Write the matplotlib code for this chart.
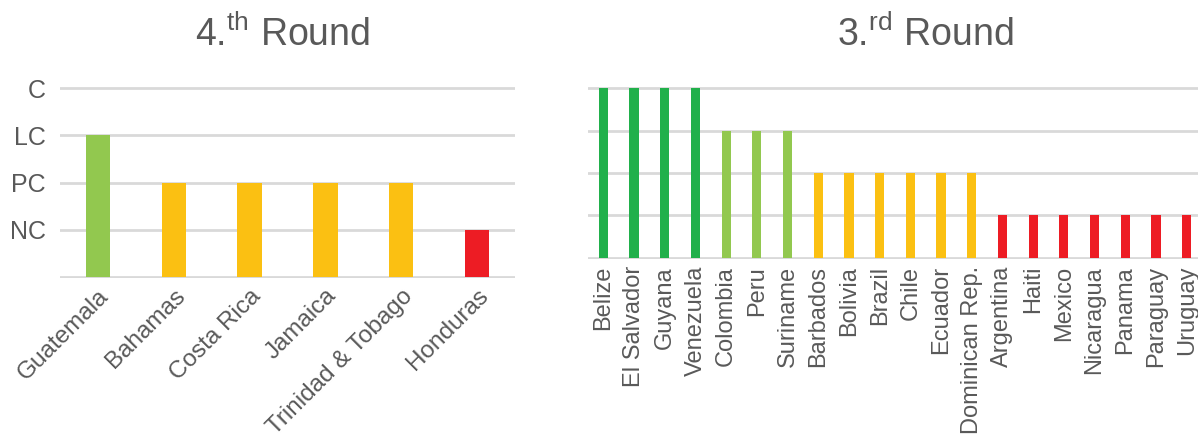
import matplotlib
matplotlib.use("Agg")
import matplotlib.pyplot as plt

plt.rcParams['font.family'] = ['Liberation Sans', 'DejaVu Sans']
plt.rcParams['mathtext.fontset'] = 'custom'
plt.rcParams['mathtext.rm'] = 'Liberation Sans'

levels = ["", "NC", "PC", "LC", "C"]

round4_countries = ["Guatemala", "Bahamas", "Costa Rica", "Jamaica",
                    "Trinidad & Tobago", "Honduras"]
round4_scores = [3, 2, 2, 2, 2, 1]

round3_countries = ["Belize", "El Salvador", "Guyana", "Venezuela", "Colombia",
                    "Peru", "Suriname", "Barbados", "Bolivia", "Brazil", "Chile",
                    "Ecuador", "Dominican Rep.", "Argentina", "Haiti", "Mexico",
                    "Nicaragua", "Panama", "Paraguay", "Uruguay"]
round3_scores = [4, 4, 4, 4, 3, 3, 3, 2, 2, 2, 2, 2, 2, 1, 1, 1, 1, 1, 1, 1]

score_colors = {4: "#21B04B", 3: "#92C84F", 2: "#FBC012", 1: "#ED1C24"}
text_col = "#595959"
grid_col = "#D9D9D9"

W, H = 1198, 441
fig = plt.figure(figsize=(W / 100, H / 100), dpi=100)

def style(ax):
    for s in ax.spines.values():
        s.set_visible(False)
    ax.set_yticks(range(5))
    ax.set_ylim(-0.03, 4.03)
    ax.yaxis.grid(True, color=grid_col, linewidth=2)
    ax.set_axisbelow(True)
    ax.tick_params(length=0, colors=text_col)

ax1 = fig.add_axes([60 / W, (H - 278) / H, 455 / W, (278 - 87) / H])
x1 = range(len(round4_countries))
ax1.bar(x1, round4_scores, width=0.32,
        color=[score_colors[s] for s in round4_scores], zorder=3)
style(ax1)
ax1.set_xlim(-0.5, len(round4_countries) - 0.5)
ax1.set_yticklabels(levels, fontsize=18)
ax1.tick_params(axis='y', pad=10)
ax1.set_xticks(list(x1))
ax1.set_xticklabels(round4_countries, rotation=45, ha='right',
                    rotation_mode='anchor', fontsize=17.5)
ax1.tick_params(axis='x', pad=5)

ax2 = fig.add_axes([588 / W, (H - 259) / H, 614 / W, (259 - 87) / H])
x2 = range(len(round3_countries))
ax2.bar(x2, round3_scores, width=0.3,
        color=[score_colors[s] for s in round3_scores], zorder=3)
style(ax2)
ax2.set_xlim(-0.5, len(round3_countries) - 0.5)
ax2.set_yticklabels([])
ax2.set_xticks(list(x2))
ax2.set_xticklabels(round3_countries, rotation=90, fontsize=17)
ax2.tick_params(axis='x', pad=5)

fig.text(283 / W, 1 - 46 / H, r"4.$^{\mathrm{th}}$ Round", ha='center',
         va='baseline', fontsize=27, color=text_col)
fig.text(925 / W, 1 - 46 / H, r"3.$^{\mathrm{rd}}$ Round", ha='center',
         va='baseline', fontsize=27, color=text_col)

fig.savefig("out.png", dpi=100)
